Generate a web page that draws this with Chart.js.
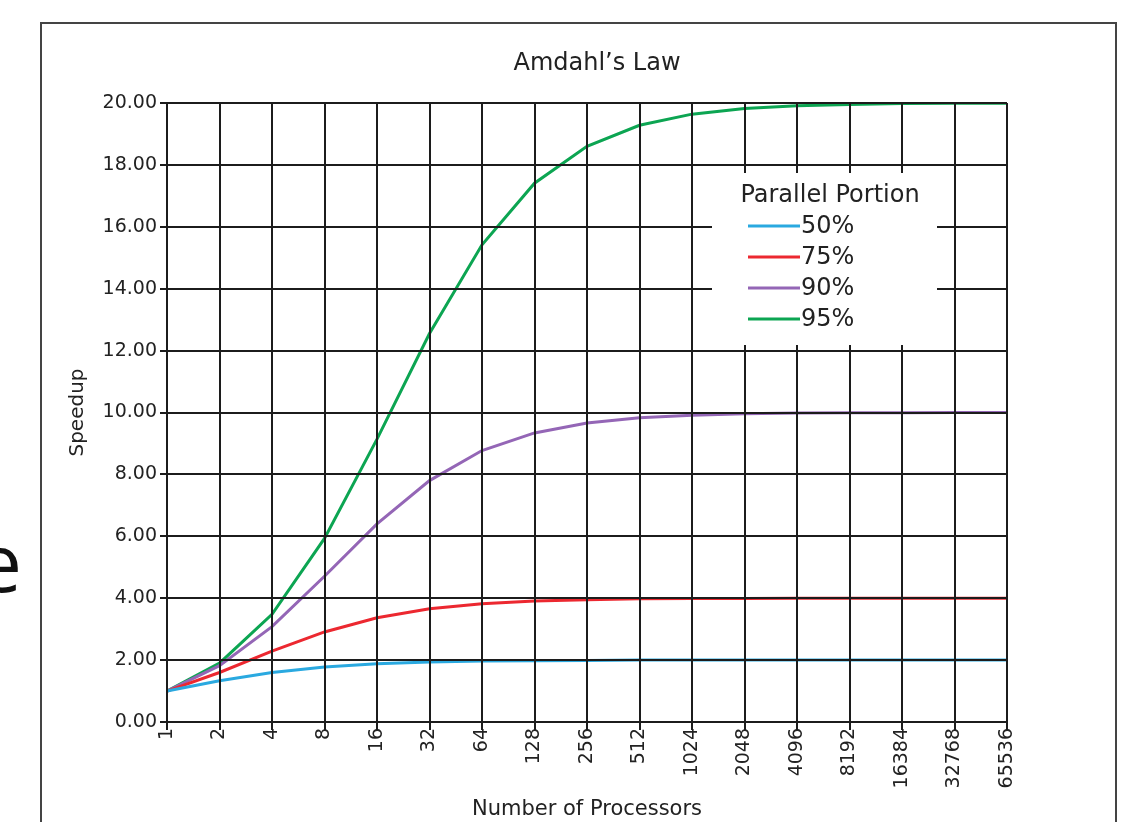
<!DOCTYPE html>
<html>
<head>
    <title>Amdahl's Law</title>
    <script src="https://cdn.jsdelivr.net/npm/chart.js"></script>
    <style>
        body { margin: 0; background: #fff; overflow: hidden; }
        #frame { position: absolute; left: 40px; top: 22px; width: 1073px; height: 900px; border: 2px solid #444; }
        #side { position: absolute; left: -23px; top: 521px; font-family: "Open Sans"; font-size: 80px; line-height: 80px; color: #111; }
        #chart { position: absolute; left: 0; top: 0; }
    </style>
</head>
<body>
    <div id="side">e</div>
    <div id="frame"></div>
    <canvas id="chart" width="1132" height="822"></canvas>

    <script>
        const chartTitle = 'Amdahl’s Law';
        const legendTitle = 'Parallel Portion';
        const processors = ['1', '2', '4', '8', '16', '32', '64', '128', '256', '512',
            '1024', '2048', '4096', '8192', '16384', '32768', '65536'];
        const portionLabels = ['50%', '75%', '90%', '95%'];
        const speedup50 = [1.00, 1.33, 1.60, 1.78, 1.88, 1.94, 1.97, 1.98, 1.99, 2.00, 2.00, 2.00, 2.00, 2.00, 2.00, 2.00, 2.00];
        const speedup75 = [1.00, 1.60, 2.29, 2.91, 3.37, 3.66, 3.82, 3.91, 3.95, 3.98, 3.99, 3.99, 4.00, 4.00, 4.00, 4.00, 4.00];
        const speedup90 = [1.00, 1.82, 3.08, 4.71, 6.40, 7.80, 8.77, 9.34, 9.66, 9.83, 9.91, 9.96, 9.98, 9.99, 9.99, 10.00, 10.00];
        const speedup95 = [1.00, 1.90, 3.48, 5.93, 9.14, 12.55, 15.42, 17.41, 18.60, 19.28, 19.64, 19.82, 19.91, 19.95, 19.98, 19.99, 19.99];

        const font = 'DejaVu Sans';
        const ink = '#222';
        const gridColor = '#1c1c1c';

        // grid sits on top of the curves in the original
        const gridOnTop = {
            id: 'gridOnTop',
            afterDatasetsDraw(chart) {
                chart.scales.x.drawGrid(chart.chartArea);
                chart.scales.y.drawGrid(chart.chartArea);
            }
        };

        // title + boxed legend drawn by hand
        const extras = {
            id: 'extras',
            afterDraw(chart) {
                const ctx = chart.ctx;
                ctx.save();
                ctx.fillStyle = ink;
                ctx.textAlign = 'center';
                ctx.textBaseline = 'middle';
                ctx.font = '24px "' + font + '"';
                ctx.fillText(chartTitle, 597, 64);

                ctx.fillStyle = '#fff';
                ctx.fillRect(712, 173, 225, 172);

                ctx.fillStyle = ink;
                ctx.font = '24px "' + font + '"';
                ctx.fillText(legendTitle, 830, 196);

                ctx.textAlign = 'left';
                chart.data.datasets.forEach((ds, i) => {
                    const y = 226 + i * 31;
                    ctx.strokeStyle = ds.borderColor;
                    ctx.lineWidth = 3;
                    ctx.beginPath();
                    ctx.moveTo(748, y);
                    ctx.lineTo(800, y);
                    ctx.stroke();
                    ctx.fillText(ds.label, 801, y + 1);
                });
                ctx.restore();
            }
        };

        const ctx = document.getElementById('chart').getContext('2d');
        new Chart(ctx, {
            type: 'line',
            data: {
                labels: processors,
                datasets: [{
                    label: portionLabels[0],
                    data: speedup50,
                    borderColor: '#2aa9e0',
                    borderWidth: 3,
                    pointRadius: 0
                }, {
                    label: portionLabels[1],
                    data: speedup75,
                    borderColor: '#ec2830',
                    borderWidth: 3,
                    pointRadius: 0
                }, {
                    label: portionLabels[2],
                    data: speedup90,
                    borderColor: '#9466b6',
                    borderWidth: 3,
                    pointRadius: 0
                }, {
                    label: portionLabels[3],
                    data: speedup95,
                    borderColor: '#0ca552',
                    borderWidth: 3,
                    pointRadius: 0
                }]
            },
            options: {
                responsive: false,
                animation: false,
                layout: { padding: { left: 0, right: 125, top: 103, bottom: 0 } },
                plugins: {
                    legend: { display: false },
                    tooltip: { enabled: false }
                },
                scales: {
                    x: {
                        grid: { color: gridColor, lineWidth: 2, tickLength: 8 },
                        border: { color: gridColor, width: 2 },
                        ticks: {
                            color: ink,
                            font: { family: font, size: 19 },
                            minRotation: 90,
                            maxRotation: 90,
                            autoSkip: false,
                            padding: -2
                        },
                        title: {
                            display: true,
                            text: 'Number of Processors',
                            color: ink,
                            font: { family: font, size: 21 },
                            padding: { top: 0, bottom: 0 }
                        },
                        afterFit(scale) { scale.height = 100; }
                    },
                    y: {
                        min: 0,
                        max: 20,
                        grid: { color: gridColor, lineWidth: 2, tickLength: 7 },
                        border: { color: gridColor, width: 2 },
                        ticks: {
                            stepSize: 2,
                            color: ink,
                            font: { family: font, size: 19 },
                            padding: 3,
                            callback: v => v.toFixed(2)
                        },
                        title: {
                            display: true,
                            text: 'Speedup',
                            color: ink,
                            font: { family: font, size: 20 },
                            padding: { top: 66, bottom: 0 }
                        },
                        afterFit(scale) { scale.width = 167; }
                    }
                }
            },
            plugins: [gridOnTop, extras]
        });
    </script>
</body>
</html>
